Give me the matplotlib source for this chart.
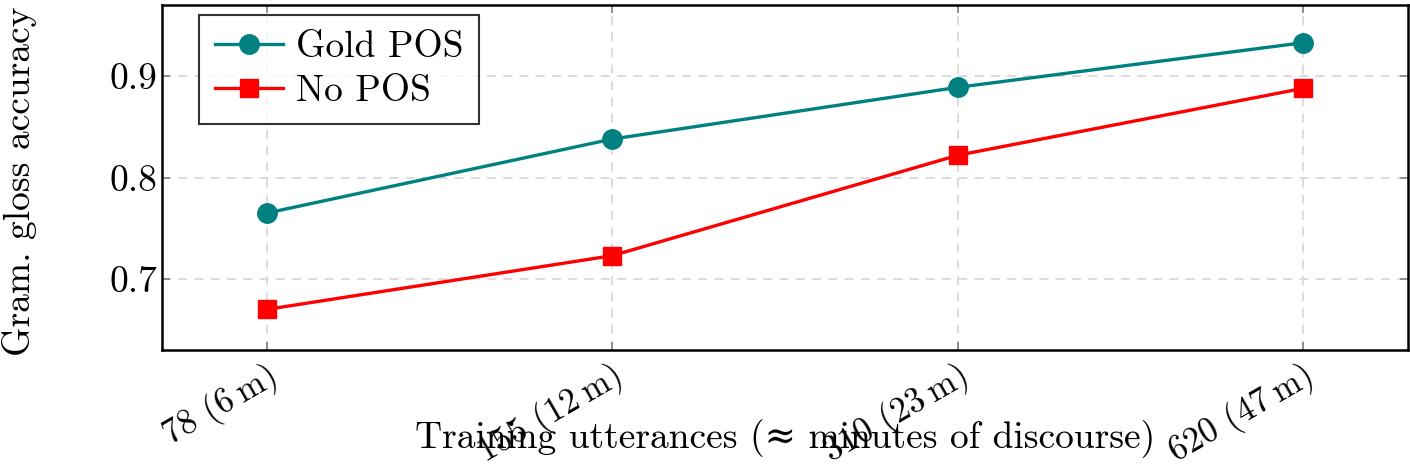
import matplotlib
matplotlib.use("Agg")
import matplotlib.pyplot as plt

# Data
categories = ["78 (6\u2009m)", "155 (12\u2009m)", "310 (23\u2009m)", "620 (47\u2009m)"]
gold_pos = [0.765, 0.838, 0.889, 0.933]
no_pos = [0.670, 0.723, 0.822, 0.888]
y_ticks = [0.7, 0.8, 0.9]

plt.rcParams["font.family"] = ["cmr10", "DejaVu Serif"]
plt.rcParams["mathtext.fontset"] = "cm"
plt.rcParams["axes.formatter.use_mathtext"] = True

fig = plt.figure(figsize=(14.1, 4.72), dpi=100)
ax = fig.add_axes([0.1149, 0.2585, 0.8836, 0.7305])

x = list(range(len(categories)))
ax.plot(x, gold_pos, color="teal", lw=2.4, marker="o", ms=14, label="Gold POS", zorder=3)
ax.plot(x, no_pos, color="red", lw=2.4, marker="s", ms=13, label="No POS", zorder=3)

ax.set_xlim(-0.303, 3.303)
ax.set_ylim(0.630, 0.970)
ax.set_xticks(x)
ax.set_xticklabels(categories, rotation=30, ha="right", rotation_mode="anchor", fontsize=25)
ax.set_yticks(y_ticks)
ax.set_yticklabels([f"{v:.1f}" for v in y_ticks], fontsize=27)

ax.grid(True, color="0.85", ls=(0, (5, 4)), lw=1.3)
ax.tick_params(direction="in", top=True, right=True, color="0.5", length=6, width=1.2)
ax.tick_params(axis="x", pad=6)
ax.tick_params(axis="y", pad=3)
for spine in ax.spines.values():
    spine.set_linewidth(1.8)

ax.set_ylabel("Gram. gloss accuracy", fontsize=27)
ax.yaxis.set_label_coords(-0.1, 0.49)
ax.set_xlabel("Training utterances (\u2248 minutes of discourse)", fontsize=27)
ax.xaxis.set_label_coords(0.5, -0.2)

leg = ax.legend(loc="upper left", bbox_to_anchor=(0.03, 0.972), fontsize=27,
                frameon=True, fancybox=False, edgecolor="black",
                handlelength=1.8, handletextpad=0.35, borderpad=0.42,
                labelspacing=0.3, borderaxespad=0.0)
leg.get_frame().set_linewidth(1.5)

fig.savefig("out.png", dpi=100)
